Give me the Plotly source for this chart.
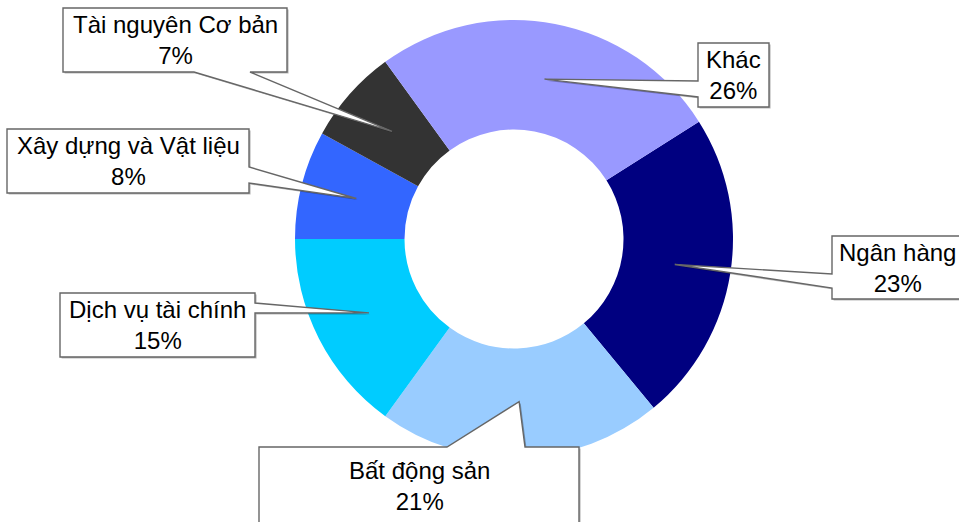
import math
import plotly.graph_objects as go

# ---- data ----
labels = ["Ngân hàng", "Bất động sản", "Dịch vụ tài chính", "Xây dựng và Vật liệu",
          "Tài nguyên Cơ bản", "Khác"]
values = [23, 21, 15, 8, 7, 26]
colors = ["#000080", "#99CCFF", "#00CCFF", "#3366FF", "#333333", "#9999FF"]

# ---- layout constants (pixels) ----
W, H = 959, 522
CX, CY, R = 514, 239, 217
DOMAIN_PAD = 2
HOLE = 0.5
ROTATION = 57.6
TIP_R = 0.75

# callout boxes: (left, top, right, bottom), pointer side, pointer base (a, b)
callouts = {
    "Ngân hàng": ((832, 236, 962, 299), "left", (274, 288)),
    "Bất động sản": ((259, 447, 579, 525), "top", (447, 525)),
    "Dịch vụ tài chính": ((60, 293, 255, 357), "right", (303, 313)),
    "Xây dựng và Vật liệu": ((7, 129, 249, 193), "right", (167, 183)),
    "Tài nguyên Cơ bản": ((63, 8, 287, 72), "bottom", (194, 250)),
    "Khác": ((698, 43, 769, 107), "left", (81, 97)),
}


def px(x, y):
    return x / W, 1 - y / H


RD = R + DOMAIN_PAD
fig = go.Figure()
fig.add_trace(go.Pie(
    labels=labels, values=values, sort=False, direction="clockwise",
    rotation=ROTATION, hole=HOLE, textinfo="none", hoverinfo="label+percent",
    marker=dict(colors=colors, line=dict(width=0)), showlegend=False,
    domain=dict(x=[(CX - RD) / W, (CX + RD) / W], y=[1 - (CY + RD) / H, 1 - (CY - RD) / H]),
))

total = sum(values)
cum = 0.0
shapes = []
annotations = []
for lab, v in zip(labels, values):
    mid = ROTATION + (cum + v / 2) / total * 360
    cum += v
    a = math.radians(mid)
    tx = CX + TIP_R * R * math.sin(a)
    ty = CY - TIP_R * R * math.cos(a)
    (l, t, r, b), side, (p0, p1) = callouts[lab]
    pts = [(l, t)]
    if side == "top":
        pts += [(p0, t), (tx, ty), (p1, t)]
    pts += [(r, t)]
    if side == "right":
        pts += [(r, p0), (tx, ty), (r, p1)]
    pts += [(r, b)]
    if side == "bottom":
        pts += [(p1, b), (tx, ty), (p0, b)]
    pts += [(l, b)]
    if side == "left":
        pts += [(l, p1), (tx, ty), (l, p0)]

    def path(dx=0.0, dy=0.0):
        s = ""
        for i, (x, y) in enumerate(pts):
            X, Y = px(x + dx, y + dy)
            s += ("M" if i == 0 else "L") + f"{X:.5f},{Y:.5f} "
        return s + "Z"

    shapes.append(dict(type="path", xref="paper", yref="paper", path=path(1.6, 1.6),
                       fillcolor="rgba(0,0,0,0.28)", line=dict(width=0), layer="above"))
    shapes.append(dict(type="path", xref="paper", yref="paper", path=path(),
                       fillcolor="white", line=dict(color="#666666", width=1.4), layer="above"))
    pct = round(v / total * 100)
    ax, ay = px((l + r) / 2, (t + b) / 2)
    annotations.append(dict(x=ax, y=ay, xref="paper", yref="paper", showarrow=False,
                            text=f"{lab}<br>{pct}%", xanchor="center", yanchor="middle",
                            align="center",
                            font=dict(family="Liberation Sans, Arial", size=24, color="black")))

fig.update_layout(
    width=W, height=H, margin=dict(l=0, r=0, t=0, b=0),
    paper_bgcolor="white", plot_bgcolor="white",
    shapes=shapes, annotations=annotations,
)
fig.write_html("out.html", config={"displayModeBar": False},
               post_script="document.body.style.margin='0';document.body.style.overflow='hidden';")
